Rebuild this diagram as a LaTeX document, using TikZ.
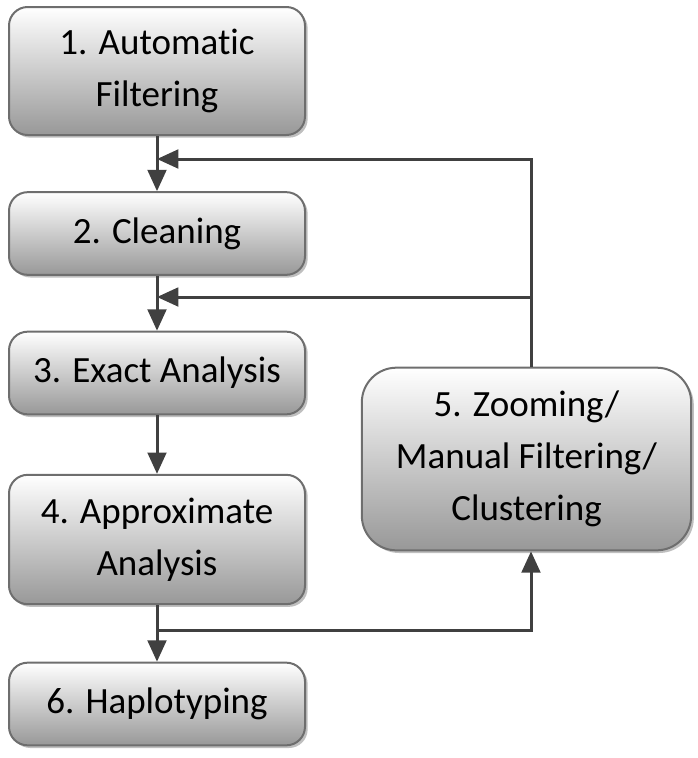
\documentclass[tikz,border=0pt]{standalone}
\usepackage{fontspec}
\setmainfont{Carlito}[RawFeature={-liga;-clig;-dlig}]
\usetikzlibrary{arrows.meta,shadows,calc}
\definecolor{boxline}{RGB}{110,110,110}
\definecolor{boxbot}{RGB}{152,152,152}
\definecolor{conncol}{RGB}{64,64,64}
\begin{document}
\begin{tikzpicture}[x=0.75pt,y=-0.75pt,
  box/.style={draw=boxline,line width=1.5pt,rounded corners=14pt,
    top color=white,bottom color=boxbot,inner sep=0pt,align=center,
    font=\fontsize{27.75}{39}\selectfont,
    drop shadow={shadow xshift=2pt,shadow yshift=-2pt,fill=black,opacity=0.25}},
  conn/.style={draw=conncol,line width=2.25pt,-{Triangle[length=16pt,width=14pt]}},
  plain/.style={draw=conncol,line width=2.25pt}]
\useasboundingbox (0,0) rectangle (698,758);
\node[box,minimum width=222pt,minimum height=96pt] (b1) at (157,71) {1. Automatic\\Filtering};
\node[box,minimum width=222pt,minimum height=62pt] (b2) at (157,233.5) {2. Cleaning};
\node[box,minimum width=222pt,minimum height=62pt] (b3) at (157,373) {3. Exact Analysis};
\node[box,minimum width=222pt,minimum height=97pt] (b4) at (157,539.5) {4. Approximate\\Analysis};
\node[box,minimum width=222pt,minimum height=62pt] (b6) at (157,704) {6. Haplotyping};
\node[box,minimum width=247pt,minimum height=137pt,rounded corners=26pt] (b5) at (526.5,459) {5. Zooming/\\Manual Filtering/\\Clustering};
\coordinate (r) at (531,0);
\coordinate (j1) at (157,159);
\coordinate (j2) at (157,297);
\coordinate (j3) at (157,630);
\draw[conn] (b1.south) -- (b2.north);
\draw[conn] (b2.south) -- (b3.north);
\draw[conn] (b3.south) -- (b4.north);
\draw[conn] (b4.south) -- (b6.north);
\draw[conn] (b5.north -| r) |- (j1);
\draw[conn] (j2 -| r) -- (j2);
\draw[conn] (j3) -| (b5.south -| r);
\end{tikzpicture}
\end{document}
